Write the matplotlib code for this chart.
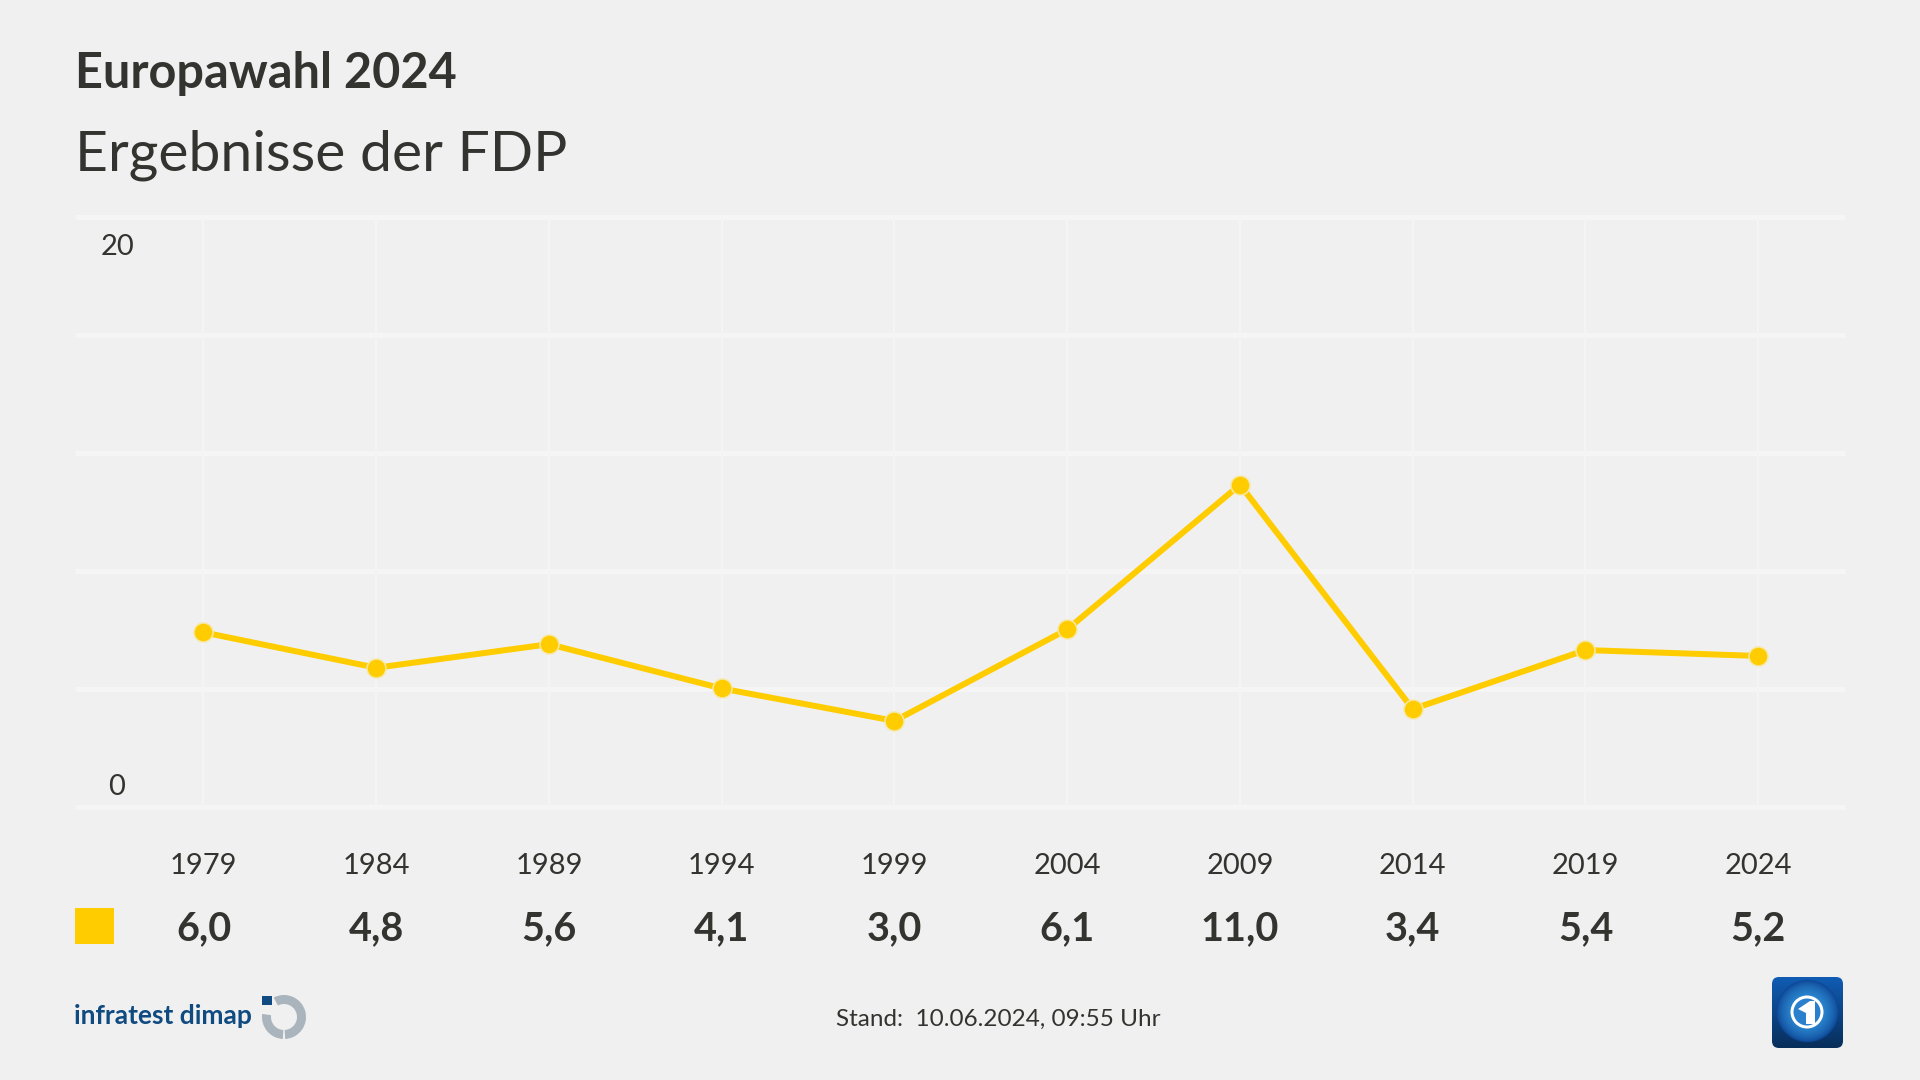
import matplotlib
matplotlib.use("Agg")
import matplotlib.pyplot as plt
import numpy as np
from matplotlib.patches import Circle, FancyBboxPatch, Polygon, Rectangle, Wedge

years = ["1979", "1984", "1989", "1994", "1999", "2004", "2009", "2014", "2019", "2024"]
fdp = [6.0, 4.8, 5.6, 4.1, 3.0, 6.1, 11.0, 3.4, 5.4, 5.2]
fdp_labels = ["6,0", "4,8", "5,6", "4,1", "3,0", "6,1", "11,0", "3,4", "5,4", "5,2"]
grid_y = [0, 4, 8, 12, 16, 20]

BG = "#f0f0f0"
INK = "#333330"
YELLOW = "#ffcc00"
GRID = "#f5f5f5"
FONT = "Lato"
PX = 72 / 100  # 1 px in points at dpi 100

plt.rcParams["font.family"] = [FONT, "DejaVu Sans"]

fig = plt.figure(figsize=(19.2, 10.8), dpi=100, facecolor=BG)


def ftext(x, y, s, **kw):
    # text placed in figure pixels, y from the top
    kw.setdefault("color", INK)
    kw.setdefault("va", "center")
    return fig.text(x / 1920, 1 - y / 1080, s, **kw)


def px_axes(left, right, top, bottom):
    a = fig.add_axes([left / 1920, 1 - bottom / 1080, (right - left) / 1920, (bottom - top) / 1080])
    a.set_facecolor("none")
    for s in a.spines.values():
        s.set_visible(False)
    a.set_xticks([])
    a.set_yticks([])
    return a


left, right = 75, 1845
x0, step = 203.5, 172.75
xs = np.arange(len(years))
xlim = ((left - x0) / step, (right - x0) / step)

# grid axes
grid_ax = px_axes(left, right, 216.5, 807)
grid_ax.set_xlim(xlim)
grid_ax.set_ylim(0, 20)
for g in grid_y:
    grid_ax.plot(xlim, [g, g], color=GRID, lw=5 * PX, solid_capstyle="butt", clip_on=False)
for x in xs:
    grid_ax.axvline(x, color="#f4f4f4", lw=2 * PX)

# the line sits a little below the grid in the original
ax = px_axes(left, right, 219, 809.5)
ax.set_xlim(xlim)
ax.set_ylim(0, 20)
ax.plot(xs, fdp, color=YELLOW, lw=6 * PX, marker="o", ms=19 * PX, mfc=YELLOW,
        mec="#f5e9a8", mew=1.5 * PX, clip_on=False, solid_joinstyle="miter")

# header
ftext(75, 73, "Europawahl 2024", fontsize=35, fontweight="bold", ha="left")
ftext(75, 155, "Ergebnisse der FDP", fontsize=41, ha="left")

# y labels
ftext(117, 247, "20", fontsize=21, ha="center")
ftext(117, 787, "0", fontsize=21, ha="center")

# table under the chart
for i, (yr, lab) in enumerate(zip(years, fdp_labels)):
    px = x0 + i * step
    ftext(px, 866, yr, fontsize=21, ha="center")
    ftext(px, 929, lab, fontsize=28.5, fontweight="bold", ha="center")

ftext(998, 1019, "Stand:  10.06.2024, 09:55 Uhr", fontsize=17.5, ha="center")
ftext(74, 1016, "infratest dimap", fontsize=19, fontweight="bold", color="#0f4a80", ha="left")

# overlay in pixel coords for swatch and logos
ov = fig.add_axes([0, 0, 1, 1])
ov.axis("off")
ov.patch.set_alpha(0)
ov.add_patch(Rectangle((75, 908), 39, 36, color=YELLOW, lw=0))

# infratest logo
cx, cy = 284, 1017
gray = "#a9b4bd"
ov.add_patch(Wedge((cx, cy), 22, -118, 87, width=9, color=gray, lw=0))
ov.add_patch(Wedge((cx, cy), 22, 93, 188, width=9, color=gray, lw=0))
ov.add_patch(Rectangle((262, 996), 10, 9, color="#0f4a80", lw=0))

# tagesschau logo: blue background, globe and the white 1
box = FancyBboxPatch((1772, 977), 71, 71, boxstyle="round,pad=0,rounding_size=7",
                     transform=ov.transData, lw=0, fc="none")
ov.add_patch(box)
yy, xx = np.mgrid[0:1:200j, 0:1:200j]
r = np.hypot(xx - 0.5, yy - 0.48)
shade = np.clip(1 - r / 0.44, 0, 1)
c0 = np.array([0x0a, 0x3f, 0x8f]) / 255
c1 = np.array([0x3a, 0xa8, 0xee]) / 255
img = c0 + (c1 - c0) * shade[..., None] ** 0.6
outside = r > 0.44
img[outside] = (np.array([0x10, 0x5c, 0xb4]) / 255) * (1 - 0.5 * yy[outside])[..., None]
im = ov.imshow(img, extent=(1772, 1843, 1048, 977), zorder=2, aspect="auto")
im.set_clip_path(box)
ov.set_xlim(0, 1920)
ov.set_ylim(1080, 0)
ov.add_patch(Circle((1807, 1012), 15, fc="#2a80cc", ec="white", lw=3 * PX, zorder=3))
ov.add_patch(Polygon([(1798, 1009), (1810, 1001), (1815, 1001), (1815, 1024), (1806, 1024), (1806, 1013)],
                     fc="white", lw=0, zorder=4))

fig.savefig("out.png", dpi=100, facecolor=BG)
